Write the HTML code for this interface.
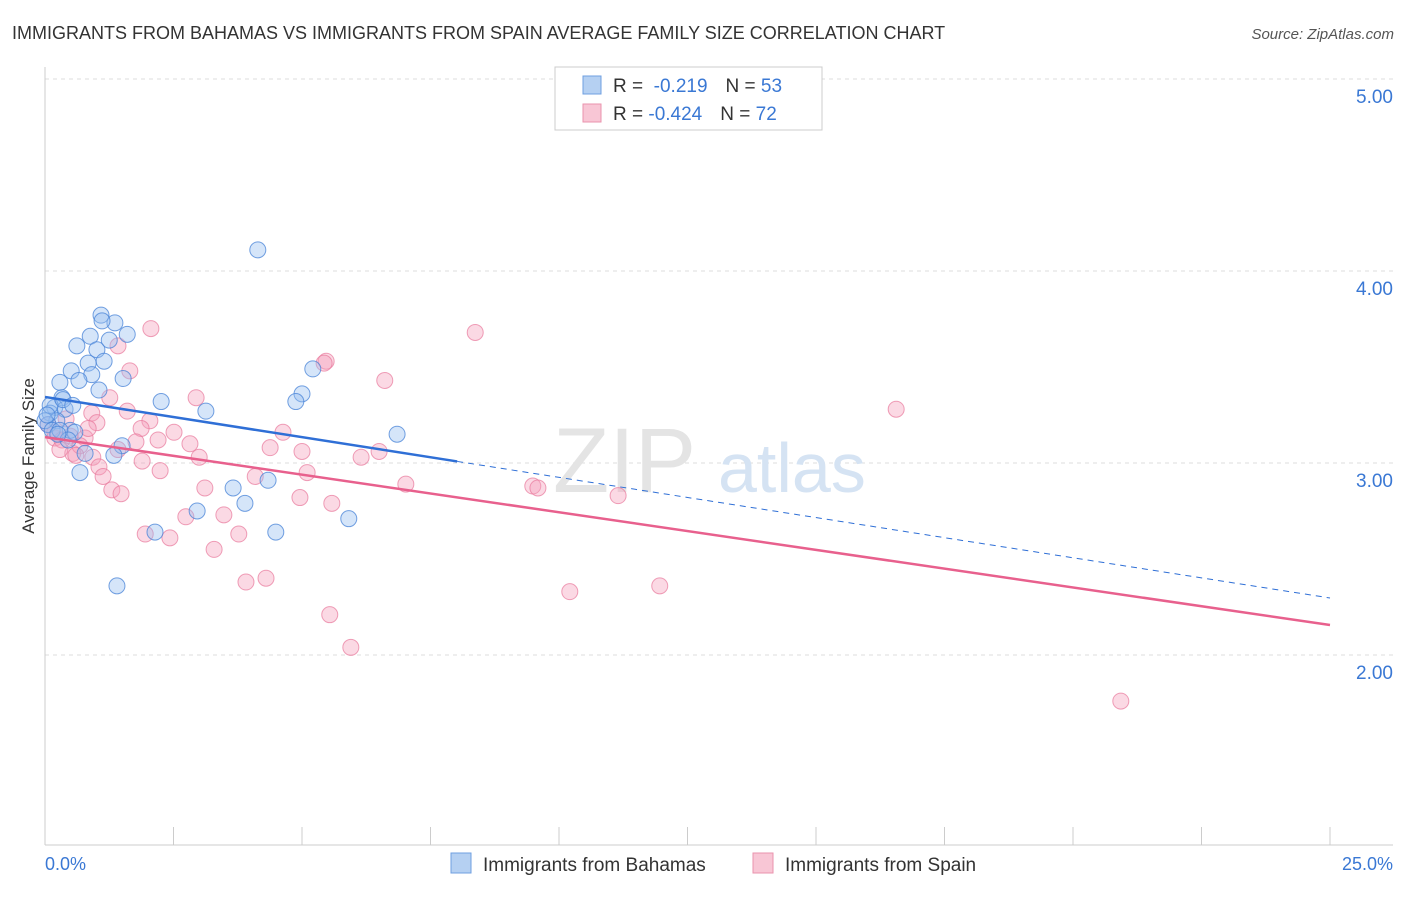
<!DOCTYPE html>
<html><head><meta charset="utf-8"><style>
body{margin:0;background:#fff;font-family:"Liberation Sans",sans-serif;}
svg text{font-family:"Liberation Sans",sans-serif;}
</style></head><body>
<svg width="1406" height="892" xmlns="http://www.w3.org/2000/svg">
<text x="12" y="39" font-size="18" fill="#333">IMMIGRANTS FROM BAHAMAS VS IMMIGRANTS FROM SPAIN AVERAGE FAMILY SIZE CORRELATION CHART</text>
<text x="1394" y="39" font-size="15" fill="#555" font-style="italic" text-anchor="end">Source: ZipAtlas.com</text>
<g id="grid"></g>
<g>
<text x="553" y="492" font-size="92" fill="#e4e4e4" font-family="Liberation Serif">ZIP</text>
<text x="718" y="492" font-size="70" fill="#d5e3f3">atlas</text>
</g>
<line x1="45" y1="67" x2="45" y2="845" stroke="#ccc"/>
<line x1="45" y1="845" x2="1393" y2="845" stroke="#ccc"/>
<text transform="translate(34,456) rotate(-90)" font-size="17" fill="#333" text-anchor="middle">Average Family Size</text>
<text x="45" y="870" font-size="18" fill="#3a78d4">0.0%</text>
<text x="1393" y="870" font-size="18" fill="#3a78d4" text-anchor="end">25.0%</text>
<g id="pts"></g>
<g id="lines"></g>
<g>
<rect x="555" y="67" width="267" height="63" fill="#fff" stroke="#ccc"/>
<rect x="583" y="76" width="18" height="18" fill="#b5d0f2" stroke="#6f9fe0"/>
<rect x="583" y="104" width="18" height="18" fill="#f8c6d5" stroke="#ea93ad"/>
<text x="613" y="92" font-size="19" fill="#333">R = <tspan fill="#3a78d4">&#160;-0.219</tspan><tspan dx="18">N = </tspan><tspan fill="#3a78d4">53</tspan></text>
<text x="613" y="120" font-size="19" fill="#333">R = <tspan fill="#3a78d4">-0.424</tspan><tspan dx="18">N = </tspan><tspan fill="#3a78d4">72</tspan></text>
</g>
<g>
<rect x="451" y="853" width="20" height="20" fill="#b5d0f2" stroke="#6f9fe0"/>
<text x="483" y="871" font-size="19" fill="#333">Immigrants from Bahamas</text>
<rect x="753" y="853" width="20" height="20" fill="#f8c6d5" stroke="#ea93ad"/>
<text x="785" y="871" font-size="19" fill="#333">Immigrants from Spain</text>
</g>
</svg>
<script>
const yTicks=[5,4,3,2];
const yTickLabels=["5.00","4.00","3.00","2.00"];
const xTicks=[0,2.5,5,7.5,10,12.5,15,17.5,20,22.5,25];
const bahamasX=[4.14,1.09,1.36,1.11,1.60,0.88,1.25,0.62,1.01,0.84,1.15,0.51,1.52,0.91,0.29,0.66,1.05,5.21,5.00,2.26,4.88,3.13,0.33,0.19,0.39,0.10,0.23,0.06,0.49,0.58,6.85,1.50,0.78,1.34,0.68,4.34,3.66,3.89,2.96,5.91,2.14,4.49,1.40,0,0.14,0.29,0.45,0.10,0.04,0.35,0.54,0.25];
const bahamasY=[4.11,3.77,3.73,3.74,3.67,3.66,3.64,3.61,3.59,3.52,3.53,3.48,3.44,3.46,3.42,3.43,3.38,3.49,3.36,3.32,3.32,3.27,3.34,3.29,3.28,3.26,3.22,3.20,3.17,3.16,3.15,3.09,3.05,3.04,2.95,2.91,2.87,2.79,2.75,2.71,2.64,2.64,2.36,3.22,3.17,3.17,3.12,3.30,3.25,3.33,3.30,3.15];
const spainX=[2.06,8.37,1.42,5.47,5.43,1.65,6.61,2.94,1.26,16.56,1.60,0.91,2.04,1.01,1.87,2.51,4.63,0.19,0.78,2.20,1.77,2.82,4.38,1.42,0.54,5.00,6.50,0.93,3.00,6.15,1.89,5.10,1.05,2.24,1.13,4.09,7.02,9.49,9.59,3.11,11.15,1.30,1.48,4.96,5.58,3.48,2.74,3.77,1.95,2.43,3.29,4.30,3.91,10.21,11.96,5.54,5.95,20.93,0.06,0.19,0.33,0.49,0.68,0.41,0.84,0.29,0.60];
const spainY=[3.70,3.68,3.61,3.53,3.52,3.48,3.43,3.34,3.34,3.28,3.27,3.26,3.22,3.21,3.18,3.16,3.16,3.13,3.13,3.12,3.11,3.10,3.08,3.07,3.05,3.06,3.06,3.03,3.03,3.03,3.01,2.95,2.98,2.96,2.93,2.93,2.89,2.88,2.87,2.87,2.83,2.86,2.84,2.82,2.79,2.73,2.72,2.63,2.63,2.61,2.55,2.40,2.38,2.33,2.36,2.21,2.04,1.76,3.20,3.16,3.12,3.14,3.09,3.23,3.18,3.07,3.04];
const bahamasTrend=[3.344,2.297,8.02];
const spainTrend=[3.135,2.156];
const NS="http://www.w3.org/2000/svg";
const sx=v=>45+v/25*1285, sy=v=>79+(5-v)*192;
function mk(t,a){const e=document.createElementNS(NS,t);for(const k in a)e.setAttribute(k,a[k]);return e;}
const grid=document.getElementById('grid');
yTicks.forEach((v,i)=>{
 const l=mk('line',{x1:45,x2:1393,y1:sy(v),y2:sy(v),stroke:'#ddd','stroke-dasharray':'4,4'});
 
 
 grid.appendChild(l);
 const t=mk('text',{x:1393,y:sy(v)+24,'font-size':19,fill:'#3a78d4','text-anchor':'end'});
 t.textContent=yTickLabels[i];
 
 
 grid.appendChild(t);
});
xTicks.forEach(v=>{
 const l=mk('line',{x1:sx(v),x2:sx(v),y1:827,y2:845,stroke:'#ccc'});
 
 
 grid.appendChild(l);
});
const pts=document.getElementById('pts');
spainX.forEach((x,i)=>{
 const c=mk('circle',{cx:sx(x),cy:sy(spainY[i]),r:8,fill:'rgba(244,160,188,0.4)',stroke:'rgba(232,120,155,0.7)','stroke-width':1});
 
 
 pts.appendChild(c);
});
bahamasX.forEach((x,i)=>{
 const c=mk('circle',{cx:sx(x),cy:sy(bahamasY[i]),r:8,fill:'rgba(150,190,240,0.4)',stroke:'rgba(70,130,215,0.75)','stroke-width':1});
 
 
 pts.appendChild(c);
});
const lines=document.getElementById('lines');
const bAt=x=>bahamasTrend[0]+(bahamasTrend[1]-bahamasTrend[0])*x/25;
let l1=mk('line',{x1:sx(0),y1:sy(bAt(0)),x2:sx(bahamasTrend[2]),y2:sy(bAt(bahamasTrend[2])),stroke:'#2f6fd6','stroke-width':2.5});


lines.appendChild(l1);
let l2=mk('line',{x1:sx(bahamasTrend[2]),y1:sy(bAt(bahamasTrend[2])),x2:sx(25),y2:sy(bAt(25)),stroke:'#2f6fd6','stroke-width':1,'stroke-dasharray':'6,5'});


lines.appendChild(l2);
let l3=mk('line',{x1:sx(0),y1:sy(spainTrend[0]),x2:sx(25),y2:sy(spainTrend[1]),stroke:'#e8608d','stroke-width':2.5});


lines.appendChild(l3);
</script>
</body></html>
